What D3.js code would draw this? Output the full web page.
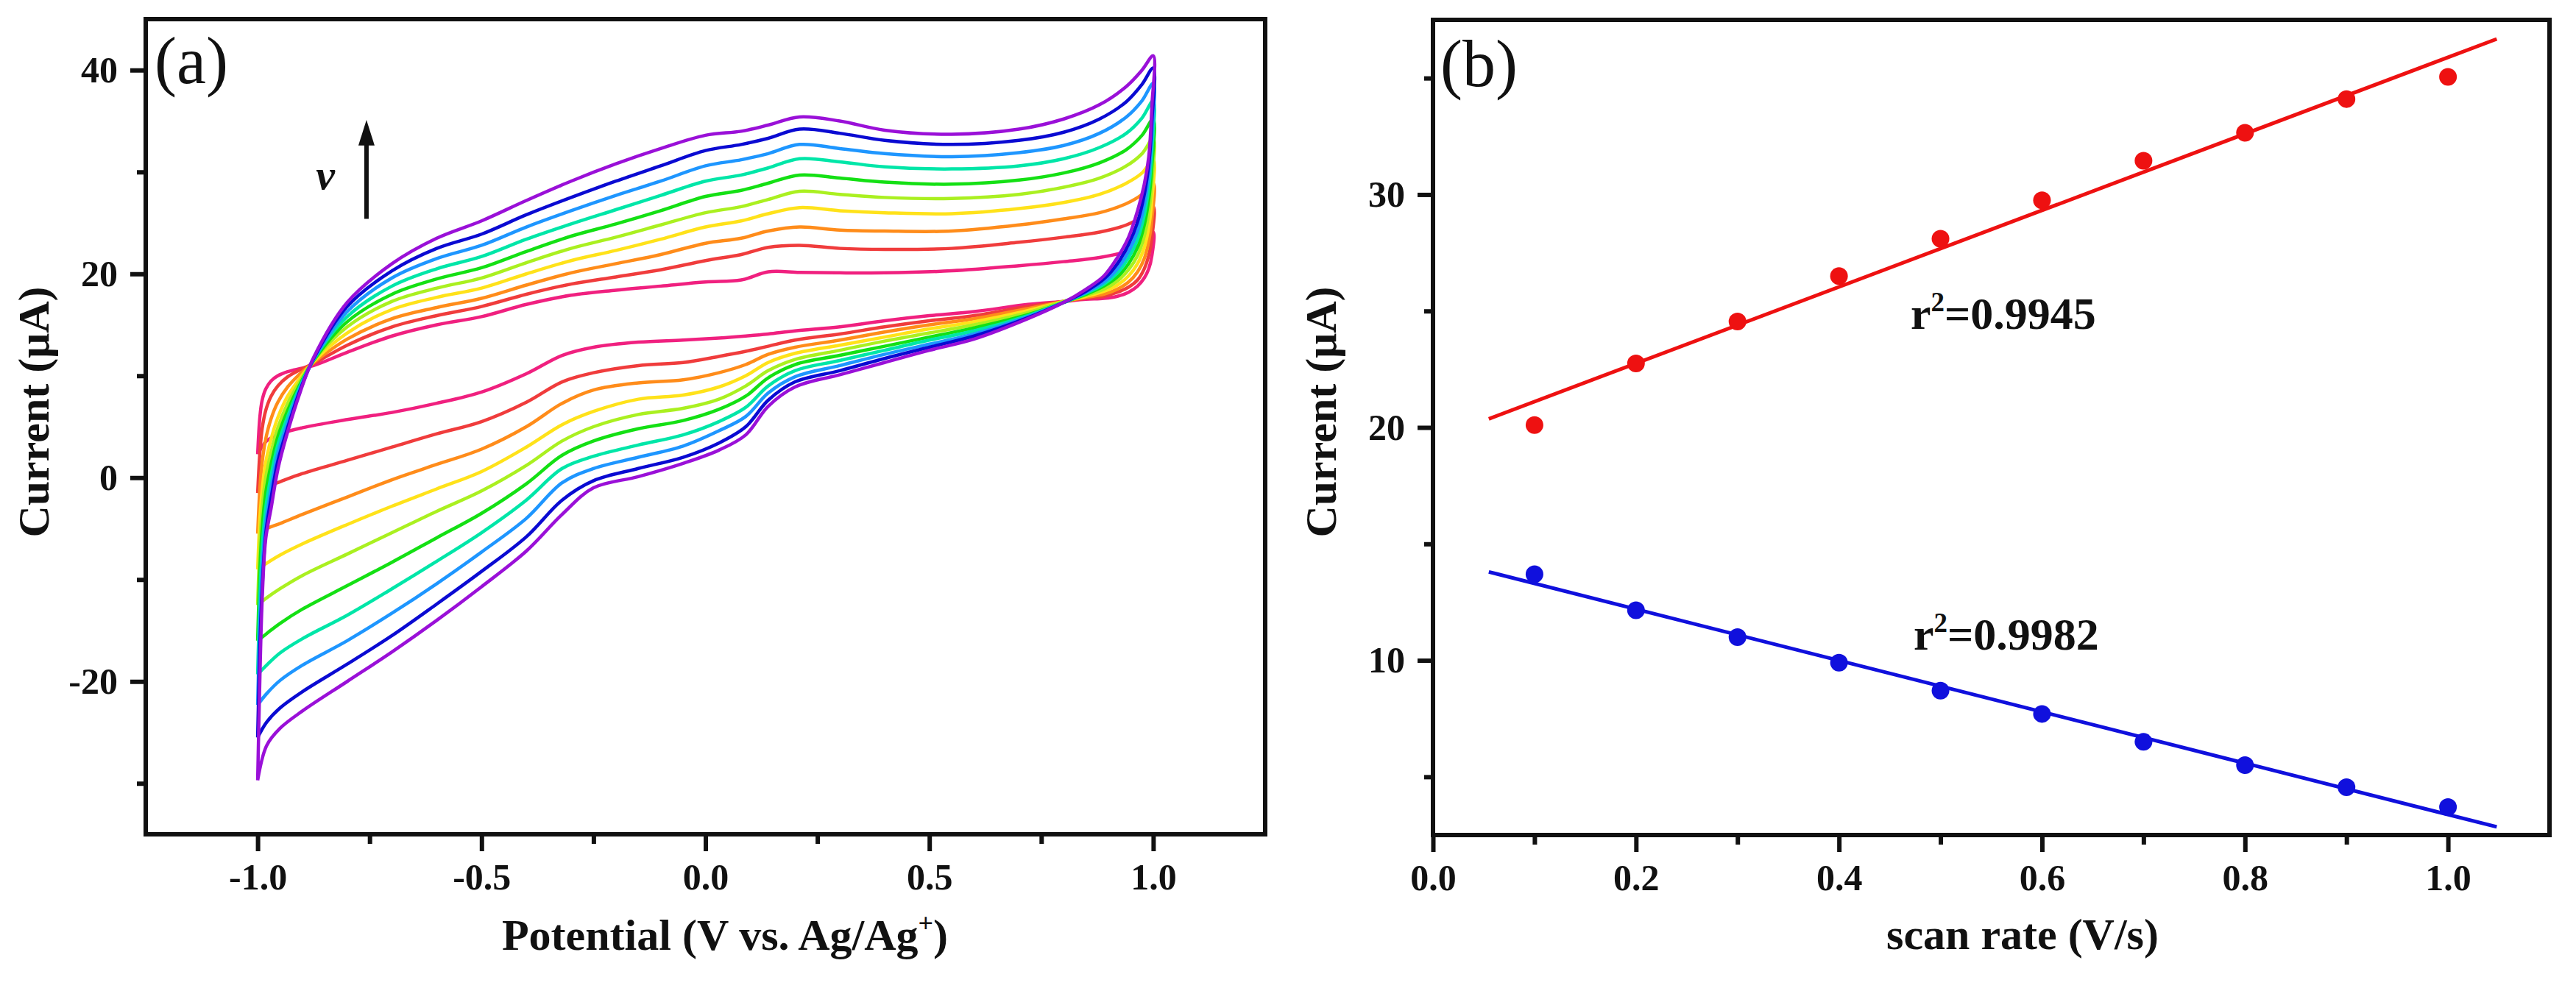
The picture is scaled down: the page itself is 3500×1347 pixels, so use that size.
<!DOCTYPE html>
<html>
<head>
<meta charset="utf-8">
<script src="https://d3js.org/d3.v7.min.js"></script>
<style>
  body { margin: 0; padding: 0; background: #fff; }
  svg { display: block; }
  text { font-family: 'Liberation Serif', 'Times New Roman', serif; fill: #111; }
  .tick text { font-size: 50px; font-weight: bold; }
  .tick line { stroke: #111; stroke-width: 6; }
  .domain { display: none; }
</style>
</head>
<body>
<svg id="chart" width="3500" height="1347"></svg>
<script>
// ---------- panel (a): CV curves at 10 scan rates ----------
const cvColors = ["#f0207f", "#f03c3c", "#ff8c1a", "#ffe21a", "#aaf020",
                  "#14e014", "#00e6a8", "#1e96ff", "#0a0ad2", "#9a10d8"];

// forward (anodic) sweep, -1.0 -> 1.0 V
const anodicE = [-1.0, -0.995, -0.99, -0.982, -0.97, -0.955, -0.933, -0.905, -0.875, -0.8, -0.7, -0.6,
  -0.5, -0.4, -0.3, -0.2, -0.1, 0.0, 0.08, 0.14, 0.21, 0.3, 0.4, 0.55, 0.7, 0.8, 0.88, 0.94, 0.975, 1.0];
const anodicI = [
  [2.3, 6.0, 7.6, 8.7, 9.5, 10.0, 10.4, 10.7, 11.0, 12.3, 13.9, 15.0, 15.8, 17.0, 17.9, 18.4, 18.8, 19.2, 19.4, 20.2, 20.15, 20.1, 20.1, 20.3, 20.8, 21.2, 21.6, 22.2, 23.0, 24.1],
  [-1.5, 2.5, 4.8, 6.6, 8.0, 9.0, 9.9, 10.6, 11.2, 13.0, 14.8, 15.9, 16.8, 18.0, 19.0, 19.7, 20.4, 21.3, 21.9, 22.6, 22.8, 22.5, 22.4, 22.5, 23.1, 23.6, 24.1, 24.8, 25.6, 26.6],
  [-5.5, -1.0, 1.5, 3.8, 5.8, 7.4, 8.9, 10.2, 11.3, 13.6, 15.6, 16.7, 17.6, 18.9, 20.1, 21.0, 21.9, 23.0, 23.5, 24.2, 24.6, 24.3, 24.2, 24.2, 24.8, 25.4, 26.0, 26.9, 27.8, 28.9],
  [-9.0, -4.0, -1.2, 1.5, 3.8, 5.9, 8.0, 9.8, 11.4, 14.2, 16.5, 17.7, 18.6, 20.0, 21.3, 22.3, 23.4, 24.6, 25.2, 25.9, 26.5, 26.2, 26.0, 25.9, 26.4, 27.0, 27.8, 28.9, 29.9, 31.2],
  [-12.5, -6.5, -3.0, 0.0, 2.5, 4.9, 7.3, 9.5, 11.5, 14.8, 17.3, 18.6, 19.6, 21.1, 22.5, 23.6, 24.8, 26.0, 26.6, 27.3, 28.1, 27.8, 27.5, 27.4, 27.8, 28.5, 29.4, 30.6, 31.8, 33.3],
  [-16.0, -9.0, -5.0, -1.5, 1.3, 4.0, 6.6, 9.2, 11.5, 15.3, 18.0, 19.5, 20.6, 22.2, 23.7, 24.9, 26.2, 27.6, 28.2, 28.9, 29.7, 29.4, 29.0, 28.8, 29.2, 29.9, 30.9, 32.2, 33.6, 35.2],
  [-19.3, -11.5, -7.0, -3.0, 0.2, 3.2, 6.0, 9.0, 11.6, 15.8, 18.8, 20.5, 21.7, 23.4, 24.9, 26.3, 27.7, 29.1, 29.7, 30.4, 31.3, 31.0, 30.5, 30.3, 30.6, 31.3, 32.4, 33.8, 35.3, 37.0],
  [-22.3, -14.0, -9.0, -4.5, -1.0, 2.4, 5.4, 8.8, 11.6, 16.3, 19.6, 21.5, 22.8, 24.6, 26.2, 27.7, 29.1, 30.6, 31.2, 31.8, 32.7, 32.3, 31.8, 31.5, 31.9, 32.6, 33.8, 35.4, 37.0, 38.7],
  [-25.5, -16.5, -11.0, -5.5, -2.0, 1.6, 4.9, 8.6, 11.7, 16.8, 20.3, 22.5, 23.9, 25.8, 27.5, 29.1, 30.6, 32.1, 32.7, 33.3, 34.2, 33.8, 33.1, 32.7, 33.1, 33.9, 35.2, 36.9, 38.6, 40.2],
  [-29.7, -19.5, -12.0, -6.0, -3.0, 0.8, 4.5, 8.4, 11.8, 17.2, 21.0, 23.5, 25.2, 27.2, 29.1, 30.8, 32.3, 33.6, 34.0, 34.6, 35.4, 35.0, 34.1, 33.7, 34.2, 35.2, 36.6, 38.4, 40.0, 41.4]
];

// reverse (cathodic) sweep, 1.0 -> -1.0 V
const cathodicE = [1.0, 0.997, 0.99, 0.98, 0.965, 0.945, 0.92, 0.89, 0.85, 0.8, 0.72, 0.6, 0.5, 0.4, 0.3,
  0.2, 0.14, 0.09, 0.03, -0.05, -0.15, -0.25, -0.32, -0.4, -0.5, -0.6, -0.7, -0.8, -0.9, -0.95, -0.98, -1.0];
const cathodicI = [
  [24.1, 21.8, 20.5, 19.6, 18.8, 18.2, 17.8, 17.6, 17.5, 17.3, 17.0, 16.3, 15.9, 15.4, 14.8, 14.4, 14.1, 13.9, 13.7, 13.5, 13.3, 12.8, 12.0, 10.2, 8.4, 7.3, 6.4, 5.7, 4.9, 4.3, 3.6, 2.3],
  [26.6, 23.6, 21.8, 20.5, 19.4, 18.7, 18.2, 17.8, 17.6, 17.3, 16.8, 15.9, 15.4, 14.8, 14.1, 13.5, 12.9, 12.4, 11.9, 11.3, 11.0, 10.3, 9.4, 7.4, 5.5, 4.3, 3.0, 1.7, 0.4, -0.4, -0.9, -1.5],
  [28.9, 25.4, 23.2, 21.5, 20.2, 19.2, 18.5, 18.0, 17.7, 17.3, 16.6, 15.6, 15.0, 14.3, 13.5, 12.8, 12.1, 11.1, 10.3, 9.6, 9.3, 8.6, 7.3, 5.0, 2.8, 1.3, -0.2, -1.9, -3.6, -4.5, -5.0, -5.5],
  [31.2, 27.3, 24.6, 22.6, 21.0, 19.8, 18.9, 18.3, 17.8, 17.3, 16.4, 15.3, 14.6, 13.8, 13.0, 12.2, 11.3, 10.0, 8.9, 8.1, 7.7, 6.5, 5.2, 3.0, 0.6, -1.1, -2.8, -4.6, -6.5, -7.6, -8.4, -9.0],
  [33.3, 29.0, 26.0, 23.7, 21.8, 20.4, 19.3, 18.5, 17.9, 17.3, 16.2, 15.0, 14.2, 13.4, 12.5, 11.6, 10.5, 9.0, 7.7, 6.8, 6.2, 5.0, 3.6, 1.2, -1.3, -3.3, -5.4, -7.5, -9.6, -10.9, -11.8, -12.5],
  [35.2, 30.6, 27.3, 24.8, 22.6, 21.0, 19.7, 18.8, 18.0, 17.2, 16.0, 14.7, 13.8, 12.9, 12.0, 11.1, 9.8, 8.0, 6.7, 5.6, 4.8, 3.6, 2.2, -0.6, -3.5, -5.9, -8.3, -10.6, -12.9, -14.3, -15.3, -16.0],
  [37.0, 32.2, 28.5, 25.8, 23.4, 21.6, 20.1, 19.0, 18.1, 17.2, 15.9, 14.4, 13.5, 12.5, 11.5, 10.5, 9.0, 6.9, 5.5, 4.2, 3.2, 2.1, 0.9, -2.2, -5.4, -8.2, -10.9, -13.5, -15.8, -17.2, -18.4, -19.3],
  [38.7, 33.7, 29.7, 26.8, 24.2, 22.2, 20.5, 19.2, 18.2, 17.2, 15.8, 14.1, 13.1, 12.1, 11.0, 9.9, 8.3, 6.0, 4.6, 3.1, 2.0, 0.9, -0.5, -4.0, -7.3, -10.4, -13.3, -16.0, -18.4, -19.9, -21.2, -22.3],
  [40.2, 35.0, 30.7, 27.8, 25.1, 22.9, 21.0, 19.5, 18.3, 17.2, 15.7, 13.9, 12.8, 11.7, 10.5, 9.4, 7.6, 5.0, 3.4, 2.0, 0.9, -0.3, -2.2, -5.8, -9.2, -12.4, -15.5, -18.3, -21.0, -22.6, -24.0, -25.5],
  [41.4, 36.5, 31.5, 28.8, 26.2, 23.6, 21.6, 19.8, 18.5, 17.2, 15.6, 13.6, 12.5, 11.3, 10.1, 8.9, 7.0, 4.2, 2.7, 1.4, 0.1, -1.0, -3.6, -7.2, -10.7, -14.0, -17.1, -20.0, -22.9, -24.6, -26.3, -29.7]
];

const aXTicks = [-1.0, -0.5, 0.0, 0.5, 1.0];
const aXTickLabels = ["-1.0", "-0.5", "0.0", "0.5", "1.0"];
const aXMinor = [-0.75, -0.25, 0.25, 0.75];
const aYTicks = [-20, 0, 20, 40];
const aYTickLabels = ["-20", "0", "20", "40"];
const aYMinor = [-30, -10, 10, 30];

// ---------- panel (b): peak current vs scan rate ----------
const scanRates = [0.1, 0.2, 0.3, 0.4, 0.5, 0.6, 0.7, 0.8, 0.9, 1.0];
const anodicPeak = [20.1, 22.75, 24.55, 26.5, 28.1, 29.75, 31.45, 32.65, 34.1, 35.05];
const cathodicPeak = [13.7, 12.15, 11.0, 9.9, 8.7, 7.7, 6.5, 5.5, 4.55, 3.7];
const fitRange = [0.055, 1.048];
const r2Labels = ["0.9945", "0.9982"];

const bXTicks = [0.0, 0.2, 0.4, 0.6, 0.8, 1.0];
const bXTickLabels = ["0.0", "0.2", "0.4", "0.6", "0.8", "1.0"];
const bXMinor = [0.1, 0.3, 0.5, 0.7, 0.9];
const bYTicks = [10, 20, 30];
const bYMinor = [5, 15, 25, 35];

const svg = d3.select("#chart");

// scales
const xA = d3.scaleLinear().domain([-1.25, 1.25]).range([198, 1719]);
const yA = d3.scaleLinear().domain([-35, 45]).range([1134, 26]);
const xB = d3.scaleLinear().domain([0, 1.1]).range([1947, 3464]);
const yB = d3.scaleLinear().domain([2.5, 37.5]).range([1135, 27]);

function drawAxes(x, y, xt, xl, xm, yt, yl, ym) {
  const [x0, x1] = x.range();
  const [y1, y0] = y.range();
  svg.append("g").attr("transform", `translate(0,${y1})`)
    .call(d3.axisBottom(x).tickValues(xt).tickFormat((d, i) => xl[i]).tickSize(23).tickPadding(16).tickSizeOuter(0));
  svg.append("g").attr("transform", `translate(0,${y1})`)
    .call(d3.axisBottom(x).tickValues(xm).tickFormat("").tickSize(13).tickSizeOuter(0));
  svg.append("g").attr("transform", `translate(${x0},0)`)
    .call(d3.axisLeft(y).tickValues(yt).tickFormat((d, i) => yl[i]).tickSize(21).tickPadding(17).tickSizeOuter(0));
  svg.append("g").attr("transform", `translate(${x0},0)`)
    .call(d3.axisLeft(y).tickValues(ym).tickFormat("").tickSize(12).tickSizeOuter(0));
  svg.append("rect")
    .attr("x", x0).attr("y", y0).attr("width", x1 - x0).attr("height", y1 - y0)
    .attr("fill", "none").attr("stroke", "#111").attr("stroke-width", 6);
}

// ---- panel a ----
const cvLine = d3.line()
  .x(d => xA(d[0])).y(d => yA(d[1]))
  .curve(d3.curveCatmullRom.alpha(0.5));

const gA = svg.append("g");
cvColors.forEach((c, k) => {
  const pts = anodicE.map((e, i) => [e, anodicI[k][i]])
    .concat(cathodicE.slice(1).map((e, i) => [e, cathodicI[k][i + 1]]));
  gA.append("path")
    .attr("d", cvLine(pts))
    .attr("fill", "none")
    .attr("stroke", c)
    .attr("stroke-width", 4.5)
    .attr("stroke-linejoin", "round");
});

drawAxes(xA, yA, aXTicks, aXTickLabels, aXMinor, aYTicks, aYTickLabels, aYMinor);

// scan-rate arrow
svg.append("line")
  .attr("x1", xA(-0.757)).attr("x2", xA(-0.757))
  .attr("y1", yA(25.4)).attr("y2", yA(32.8))
  .attr("stroke", "#111").attr("stroke-width", 6);
svg.append("path")
  .attr("d", `M${xA(-0.757)},${yA(35.1)} L${xA(-0.757) - 11},${yA(32.6)} L${xA(-0.757) + 11},${yA(32.6)} Z`)
  .attr("fill", "#111");
svg.append("text")
  .attr("x", xA(-0.87)).attr("y", yA(28.3))
  .attr("font-size", 58).attr("font-style", "italic").attr("font-weight", "bold")
  .text("ν");

svg.append("text").attr("x", 210).attr("y", 113).attr("font-size", 90).text("(a)");

svg.append("text")
  .attr("transform", "translate(66,560) rotate(-90)")
  .attr("text-anchor", "middle").attr("font-size", 60).attr("font-weight", "bold")
  .text("Current (μA)");

const xtA = svg.append("text")
  .attr("x", 985).attr("y", 1291)
  .attr("text-anchor", "middle").attr("font-size", 60).attr("font-weight", "bold");
xtA.append("tspan").text("Potential (V vs. Ag/Ag");
xtA.append("tspan").attr("font-size", 36).attr("dy", -24).text("+");
xtA.append("tspan").attr("dy", 24).text(")");

// ---- panel b ----
function fit(xs, ys) {
  const mx = d3.mean(xs), my = d3.mean(ys);
  const sxy = d3.sum(xs, (x, i) => (x - mx) * (ys[i] - my));
  const sxx = d3.sum(xs, x => (x - mx) * (x - mx));
  const m = sxy / sxx;
  return [m, my - m * mx];
}

const seriesB = [
  { vals: anodicPeak, color: "#ee1111", r2: r2Labels[0], lx: 0.4706, ly: 24.23 },
  { vals: cathodicPeak, color: "#1010dd", r2: r2Labels[1], lx: 0.4735, ly: 10.46 }
];

seriesB.forEach(s => {
  const [m, b] = fit(scanRates, s.vals);
  svg.append("line")
    .attr("x1", xB(fitRange[0])).attr("y1", yB(m * fitRange[0] + b))
    .attr("x2", xB(fitRange[1])).attr("y2", yB(m * fitRange[1] + b))
    .attr("stroke", s.color).attr("stroke-width", 5);
  svg.append("g").selectAll("circle")
    .data(scanRates)
    .join("circle")
    .attr("cx", d => xB(d))
    .attr("cy", (d, i) => yB(s.vals[i]))
    .attr("r", 12)
    .attr("fill", s.color);
  const t = svg.append("text")
    .attr("x", xB(s.lx)).attr("y", yB(s.ly))
    .attr("font-size", 62).attr("font-weight", "bold");
  t.append("tspan").text("r");
  t.append("tspan").attr("font-size", 37).attr("dy", -24).text("2");
  t.append("tspan").attr("dy", 24).text("=" + s.r2);
});

drawAxes(xB, yB, bXTicks, bXTickLabels, bXMinor, bYTicks, bYTicks.map(String), bYMinor);

svg.append("text").attr("x", 1957).attr("y", 117).attr("font-size", 90).text("(b)");

svg.append("text")
  .attr("transform", "translate(1815,560) rotate(-90)")
  .attr("text-anchor", "middle").attr("font-size", 60).attr("font-weight", "bold")
  .text("Current (μA)");

svg.append("text")
  .attr("x", 2748).attr("y", 1290)
  .attr("text-anchor", "middle").attr("font-size", 60).attr("font-weight", "bold")
  .text("scan rate (V/s)");
</script>
</body>
</html>
